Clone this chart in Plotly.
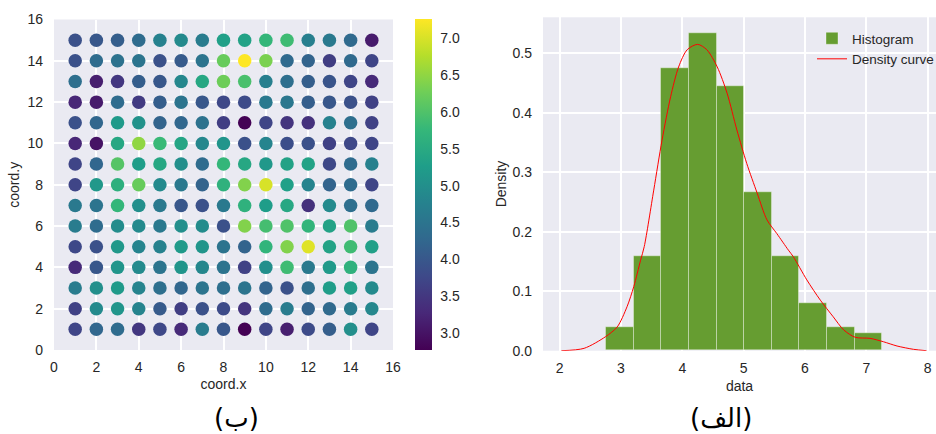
import plotly.graph_objects as go

# ---------------- data ----------------
grid_x = list(range(1, 16))
grid_y = list(range(1, 16))

# colour values, one list per row (y = 1 ... 15), left to right (x = 1 ... 15)
row_y1 = [3.7, 4.25, 4.35, 3.5, 3.75, 3.3, 4.65, 4.0, 2.77, 3.7, 3.15, 3.8, 4.1, 5.0, 3.7]
row_y2 = [3.65, 4.9, 5.1, 4.8, 4.05, 3.6, 3.9, 3.8, 3.45, 4.35, 4.65, 4.2, 4.3, 4.65, 4.85]
row_y3 = [4.65, 5.0, 5.2, 4.8, 4.4, 4.25, 4.5, 4.4, 4.5, 4.2, 3.9, 4.4, 5.25, 5.3, 4.9]
row_y4 = [3.3, 4.0, 5.1, 4.9, 4.5, 5.1, 4.85, 4.5, 3.65, 5.0, 5.85, 4.6, 5.2, 5.65, 4.5]
row_y5 = [3.75, 3.9, 5.15, 4.8, 4.75, 5.2, 5.1, 4.5, 4.2, 5.7, 6.4, 7.05, 5.35, 5.85, 5.3]
row_y6 = [4.65, 4.35, 4.95, 4.9, 4.6, 5.0, 4.95, 3.9, 6.4, 5.9, 6.0, 5.7, 5.35, 6.0, 4.65]
row_y7 = [4.6, 4.5, 5.75, 5.0, 4.6, 4.0, 3.9, 4.6, 5.65, 5.25, 5.45, 3.4, 4.9, 4.4, 4.3]
row_y8 = [3.7, 5.15, 5.6, 6.2, 4.9, 4.6, 4.2, 5.65, 6.4, 7.0, 5.3, 4.8, 4.2, 4.35, 3.7]
row_y9 = [3.7, 4.25, 6.05, 5.25, 5.45, 5.0, 4.35, 5.75, 5.45, 5.15, 5.35, 5.35, 3.75, 4.35, 4.75]
row_y10 = [3.25, 3.0, 5.45, 6.5, 5.8, 5.4, 4.85, 5.1, 3.9, 4.8, 3.85, 3.9, 3.65, 3.75, 3.7]
row_y11 = [3.9, 4.25, 5.2, 5.05, 4.2, 4.25, 4.45, 3.6, 2.78, 3.7, 3.45, 3.4, 4.75, 4.4, 3.65]
row_y12 = [3.25, 3.1, 4.35, 3.55, 4.1, 4.5, 4.0, 3.75, 3.8, 4.6, 4.55, 4.1, 4.0, 3.9, 3.65]
row_y13 = [4.4, 3.15, 3.5, 4.1, 4.0, 4.85, 5.45, 6.25, 5.95, 4.7, 4.4, 4.1, 3.95, 3.7, 3.3]
row_y14 = [3.9, 4.35, 4.45, 4.5, 3.9, 4.05, 4.5, 6.2, 7.26, 6.35, 4.3, 4.2, 3.6, 4.3, 3.7]
row_y15 = [3.9, 4.0, 4.1, 4.35, 4.75, 4.9, 4.65, 5.3, 5.35, 5.75, 5.85, 4.7, 4.6, 4.3, 3.1]

rows = [row_y1, row_y2, row_y3, row_y4, row_y5, row_y6, row_y7, row_y8,
        row_y9, row_y10, row_y11, row_y12, row_y13, row_y14, row_y15]

colorbar_ticks = [3.0, 3.5, 4.0, 4.5, 5.0, 5.5, 6.0, 6.5, 7.0]

# histogram (density) of the data
bin_edges = [2.76, 3.21, 3.66, 4.11, 4.56, 5.01, 5.46, 5.91, 6.36, 6.81, 7.26]
bin_density = [0.039, 0.158, 0.474, 0.533, 0.444, 0.267, 0.158, 0.079, 0.039, 0.030]

# density curve
curve_x = [2.03, 2.40, 2.75, 2.94, 3.10, 3.21, 3.32, 3.38, 3.535, 3.67, 3.81, 3.94,
           4.08, 4.25, 4.40, 4.57, 4.73, 4.89, 5.05, 5.22, 5.38, 5.54, 5.73, 5.81,
           6.03, 6.25, 6.46, 6.63, 6.82, 7.06, 7.28, 7.50, 7.77, 7.98]
curve_y = [0.0, 0.004, 0.0236, 0.040, 0.074, 0.108, 0.152, 0.175, 0.270, 0.354, 0.427, 0.477,
           0.506, 0.515, 0.506, 0.477, 0.433, 0.371, 0.315, 0.265, 0.220, 0.197, 0.169, 0.158,
           0.119, 0.085, 0.057, 0.035, 0.0225, 0.0208, 0.015, 0.0079, 0.0023, 0.0]

hist_ticks = [2, 3, 4, 5, 6, 7, 8]
density_ticks = [0.0, 0.1, 0.2, 0.3, 0.4, 0.5]
grid_ticks = [0, 2, 4, 6, 8, 10, 12, 14, 16]

# ---------------- figure ----------------
W, H = 936, 434
FONT = "Arial, 'Liberation Sans', sans-serif"
TXT = "#262626"
BG = "#EAEAF2"
FS = 14

def px_x(p):
    return p / W

def px_y(p):
    return 1 - p / H

pts_x, pts_y, pts_c = [], [], []
for yi, row in zip(grid_y, rows):
    for xi, v in zip(grid_x, row):
        pts_x.append(xi)
        pts_y.append(yi)
        pts_c.append(v)

fig = go.Figure()

fig.add_trace(go.Scatter(
    x=pts_x, y=pts_y, mode="markers", showlegend=False,
    marker=dict(
        size=13.5, color=pts_c, colorscale="Viridis", cmin=2.77, cmax=7.26,
        line=dict(width=0),
        colorbar=dict(
            x=px_x(415), xanchor="left", xpad=0, ypad=0,
            y=px_y(350), yanchor="bottom", len=(350 - 19.5) / H, lenmode="fraction",
            thickness=17, outlinewidth=0, tickvals=colorbar_ticks, tickformat=".1f",
            ticks="outside", ticklen=6, tickcolor="rgba(0,0,0,0)",
            tickfont=dict(size=FS, color=TXT, family=FONT),
        ),
    ),
    xaxis="x", yaxis="y",
))

centers = [(a + b) / 2 for a, b in zip(bin_edges[:-1], bin_edges[1:])]
widths = [b - a for a, b in zip(bin_edges[:-1], bin_edges[1:])]
fig.add_trace(go.Bar(
    x=centers, y=bin_density, width=widths, name="Histogram",
    marker=dict(color="#669d31", line=dict(color="rgba(255,255,255,0.35)", width=1)),
    xaxis="x2", yaxis="y2",
))
fig.add_trace(go.Scatter(
    x=curve_x, y=curve_y, mode="lines", name="Density curve",
    line=dict(color="red", width=1, shape="spline", smoothing=0.8),
    xaxis="x2", yaxis="y2",
))

axis_common = dict(
    showgrid=True, gridcolor="white", gridwidth=1.5, zeroline=False, showline=False,
    ticks="", tickfont=dict(size=FS, color=TXT, family=FONT),
    automargin=False,
)

fig.update_layout(
    width=W, height=H, margin=dict(l=0, r=0, t=0, b=0, autoexpand=False),
    paper_bgcolor="white", plot_bgcolor=BG,
    font=dict(family=FONT, color=TXT, size=FS),
    bargap=0,
    xaxis=dict(domain=[px_x(54), px_x(393)], range=[0, 16], tickvals=grid_ticks, ticklabelstandoff=7,
               title=dict(text="coord.x", standoff=5, font=dict(size=FS)), anchor="y", **axis_common),
    yaxis=dict(domain=[px_y(350), px_y(19.5)], range=[0, 16], tickvals=grid_ticks, ticklabelstandoff=10,
               title=dict(text="coord.y", standoff=4, font=dict(size=FS)), anchor="x", **axis_common),
    xaxis2=dict(domain=[px_x(543), 1.0], range=[1.73, 8.135], tickvals=hist_ticks, ticklabelstandoff=7,
                title=dict(text="data", standoff=6, font=dict(size=FS)), anchor="y2", **axis_common),
    yaxis2=dict(domain=[px_y(350.7), px_y(17.3)], range=[0, 0.5605], tickvals=density_ticks,
                tickformat=".1f", ticklabelstandoff=10,
                title=dict(text="Density", standoff=2, font=dict(size=FS)), anchor="x2", **axis_common),
    legend=dict(x=px_x(812), xanchor="left", y=px_y(23), yanchor="top",
                bgcolor="rgba(0,0,0,0)", font=dict(size=13.5, color=TXT, family=FONT),
                tracegroupgap=0, itemwidth=30),
    annotations=[
        dict(text="(ب)", x=px_x(236), y=px_y(418), xref="paper", yref="paper",
             xanchor="center", yanchor="middle",
             showarrow=False, font=dict(size=26, color="black", family="'DejaVu Sans', sans-serif")),
        dict(text="(الف)", x=px_x(721), y=px_y(418), xref="paper", yref="paper",
             xanchor="center", yanchor="middle",
             showarrow=False, font=dict(size=26, color="black", family="'DejaVu Sans', sans-serif")),
    ],
)

fig.write_html("out.html", config={"displayModeBar": False},
               post_script="document.body.style.margin='0';document.body.style.padding='0';")
